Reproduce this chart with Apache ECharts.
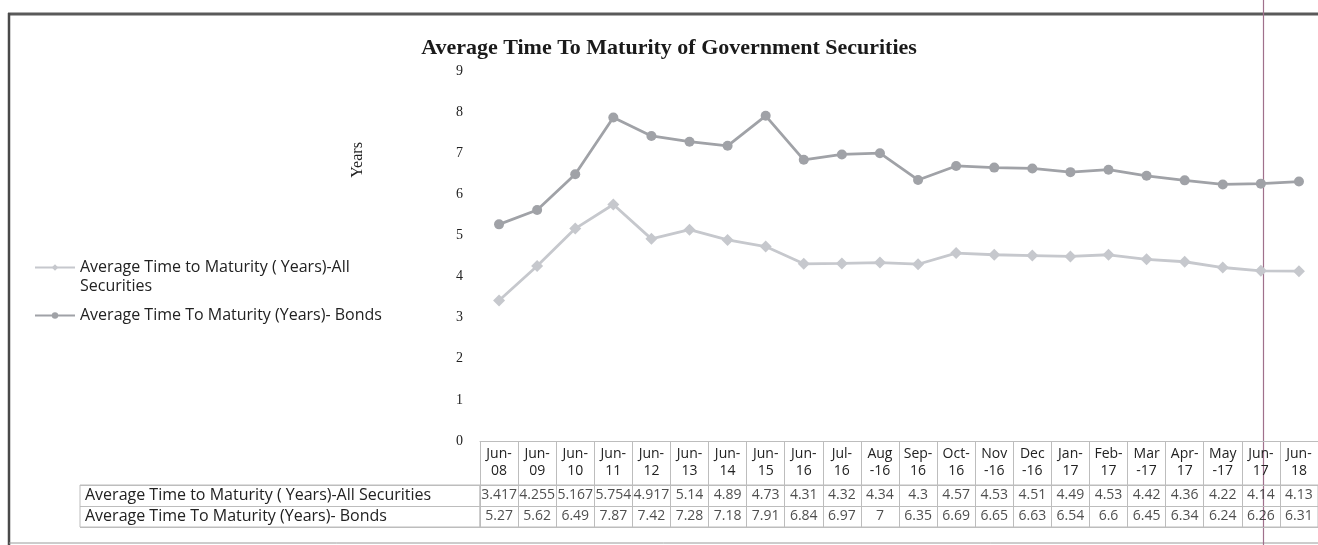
<!DOCTYPE html>
<html>
<head>
<meta charset="utf-8">
<script src="https://cdn.jsdelivr.net/npm/echarts@6/dist/echarts.min.js"></script>
<style>
  html, body { margin: 0; padding: 0; background: #fff; }
  #chart { width: 1318px; height: 545px; }
</style>
</head>
<body>
<div id="chart"></div>
<script>
// Period labels as they wrap in the header row of the data table
const tickLabels = [
  'Jun-\n08', 'Jun-\n09', 'Jun-\n10', 'Jun-\n11', 'Jun-\n12', 'Jun-\n13', 'Jun-\n14',
  'Jun-\n15', 'Jun-\n16', 'Jul-\n16', 'Aug\n-16', 'Sep-\n16', 'Oct-\n16', 'Nov\n-16',
  'Dec\n-16', 'Jan-\n17', 'Feb-\n17', 'Mar\n-17', 'Apr-\n17', 'May\n-17', 'Jun-\n17', 'Jun-\n18'
];
const seriesNames = [
  'Average Time to Maturity ( Years)-All Securities',
  'Average Time To Maturity (Years)- Bonds'
];
// Average time to maturity, years
const allSecurities = [3.417, 4.255, 5.167, 5.754, 4.917, 5.14, 4.89, 4.73, 4.31, 4.32, 4.34,
  4.3, 4.57, 4.53, 4.51, 4.49, 4.53, 4.42, 4.36, 4.22, 4.14, 4.13];
const bonds = [5.27, 5.62, 6.49, 7.87, 7.42, 7.28, 7.18, 7.91, 6.84, 6.97, 7,
  6.35, 6.69, 6.65, 6.63, 6.54, 6.6, 6.45, 6.34, 6.24, 6.26, 6.31];
const yTicks = { min: 0, max: 9, interval: 1 };

const sans = '"Open Sans", sans-serif';
const serif = '"Liberation Serif", "Times New Roman", serif';
const tableLine = '#bdbdbd';
const colAll = '#c6c8cd';
const colBonds = '#a0a2a7';

// Data-table cells: one labelled point per (period, row)
const cellData = [];
[allSecurities, bonds].forEach((arr, r) => {
  arr.forEach((v, i) => cellData.push([i, r, v]));
});

const chart = echarts.init(document.getElementById('chart'));
chart.setOption({
  animation: false,
  backgroundColor: '#fff',
  title: {
    text: 'Average Time To Maturity of Government Securities',
    left: 664, top: 32, textAlign: 'center',
    textStyle: { fontFamily: serif, fontWeight: 'bold', fontSize: 22, color: '#1a1a1a' }
  },
  legend: [
    {
      // leading blank line keeps the marker level with the first text line
      data: [seriesNames[0]], orient: 'vertical', left: 34, top: 239, padding: 0,
      itemWidth: 40, itemHeight: 8,
      formatter: n => '\n' + n.replace('-All ', '-All\n'),
      textStyle: { fontFamily: sans, fontSize: 16, color: '#222', lineHeight: 19 }
    },
    {
      data: [seriesNames[1]], orient: 'vertical', left: 34, top: 306, padding: 0,
      itemWidth: 40, itemHeight: 8,
      textStyle: { fontFamily: sans, fontSize: 16, color: '#222', lineHeight: 19 }
    }
  ],
  grid: [
    { left: 480, top: 71, width: 845, height: 370 },          // plot
    { left: 480, top: 485, width: 845, height: 42, show: true, borderColor: tableLine, borderWidth: 1 }, // values
    { left: 80, top: 485, width: 400, height: 42, show: true, borderColor: tableLine, borderWidth: 1 }   // row headers
  ],
  xAxis: [
    {
      gridIndex: 0, type: 'category', data: tickLabels, boundaryGap: true,
      axisLine: { lineStyle: { color: tableLine } },
      axisTick: { show: true, length: 44, interval: 0, lineStyle: { color: tableLine } },
      axisLabel: { interval: 0, margin: 5, fontFamily: sans, fontSize: 14, lineHeight: 17, color: '#222' }
    },
    {
      gridIndex: 1, type: 'category', data: tickLabels, boundaryGap: true,
      axisLine: { show: false }, axisTick: { show: false }, axisLabel: { show: false },
      splitLine: { show: true, interval: 0, lineStyle: { color: tableLine } }
    },
    { gridIndex: 2, type: 'value', show: false }
  ],
  yAxis: [
    {
      gridIndex: 0, type: 'value', min: yTicks.min, max: yTicks.max, interval: yTicks.interval,
      axisLine: { show: false }, axisTick: { show: false }, splitLine: { show: false },
      axisLabel: { margin: 17, fontFamily: serif, fontSize: 14, color: '#222' },
      name: 'Years', nameLocation: 'middle', nameRotate: 90, nameGap: 114,
      nameTextStyle: { fontFamily: serif, fontSize: 16, color: '#222', padding: [0, 0, 0, 192] }
    },
    {
      gridIndex: 1, type: 'category', data: [0, 1], inverse: true,
      axisLine: { show: false }, axisTick: { show: false }, axisLabel: { show: false },
      splitLine: { show: true, interval: 0, lineStyle: { color: tableLine } }
    },
    {
      gridIndex: 2, type: 'category', data: seriesNames, inverse: true,
      axisLine: { show: false }, axisTick: { show: false },
      axisLabel: { inside: true, margin: 5, fontFamily: sans, fontSize: 16, color: '#222' },
      splitLine: { show: true, interval: 0, lineStyle: { color: tableLine } }
    }
  ],
  series: [
    {
      name: seriesNames[0], type: 'line', xAxisIndex: 0, yAxisIndex: 0, data: allSecurities,
      symbol: 'diamond', symbolSize: 12,
      itemStyle: { color: colAll }, lineStyle: { color: colAll, width: 2.8 }
    },
    {
      name: seriesNames[1], type: 'line', xAxisIndex: 0, yAxisIndex: 0, data: bonds,
      symbol: 'circle', symbolSize: 10,
      itemStyle: { color: colBonds }, lineStyle: { color: colBonds, width: 2.8 }
    },
    {
      type: 'scatter', xAxisIndex: 1, yAxisIndex: 1, data: cellData,
      symbolSize: 0, silent: true,
      label: {
        show: true, position: 'inside', formatter: p => String(p.value[2]),
        fontFamily: sans, fontSize: 14, color: '#222'
      }
    }
  ],
  graphic: [
    // chart frame
    { type: 'line', shape: { x1: 8, y1: 14, x2: 1318, y2: 14 }, style: { stroke: '#5a5a5a', lineWidth: 3 } },
    { type: 'line', shape: { x1: 9, y1: 13, x2: 9, y2: 545 }, style: { stroke: '#4a4a4a', lineWidth: 2.5 } },
    { type: 'line', shape: { x1: 9, y1: 543, x2: 1318, y2: 543 }, style: { stroke: '#9a9a9a', lineWidth: 1 } },
    // page margin rule
    { type: 'line', shape: { x1: 1263.5, y1: 0, x2: 1263.5, y2: 545 }, style: { stroke: '#a0708c', lineWidth: 1.2 } }
  ]
});
</script>
</body>
</html>
